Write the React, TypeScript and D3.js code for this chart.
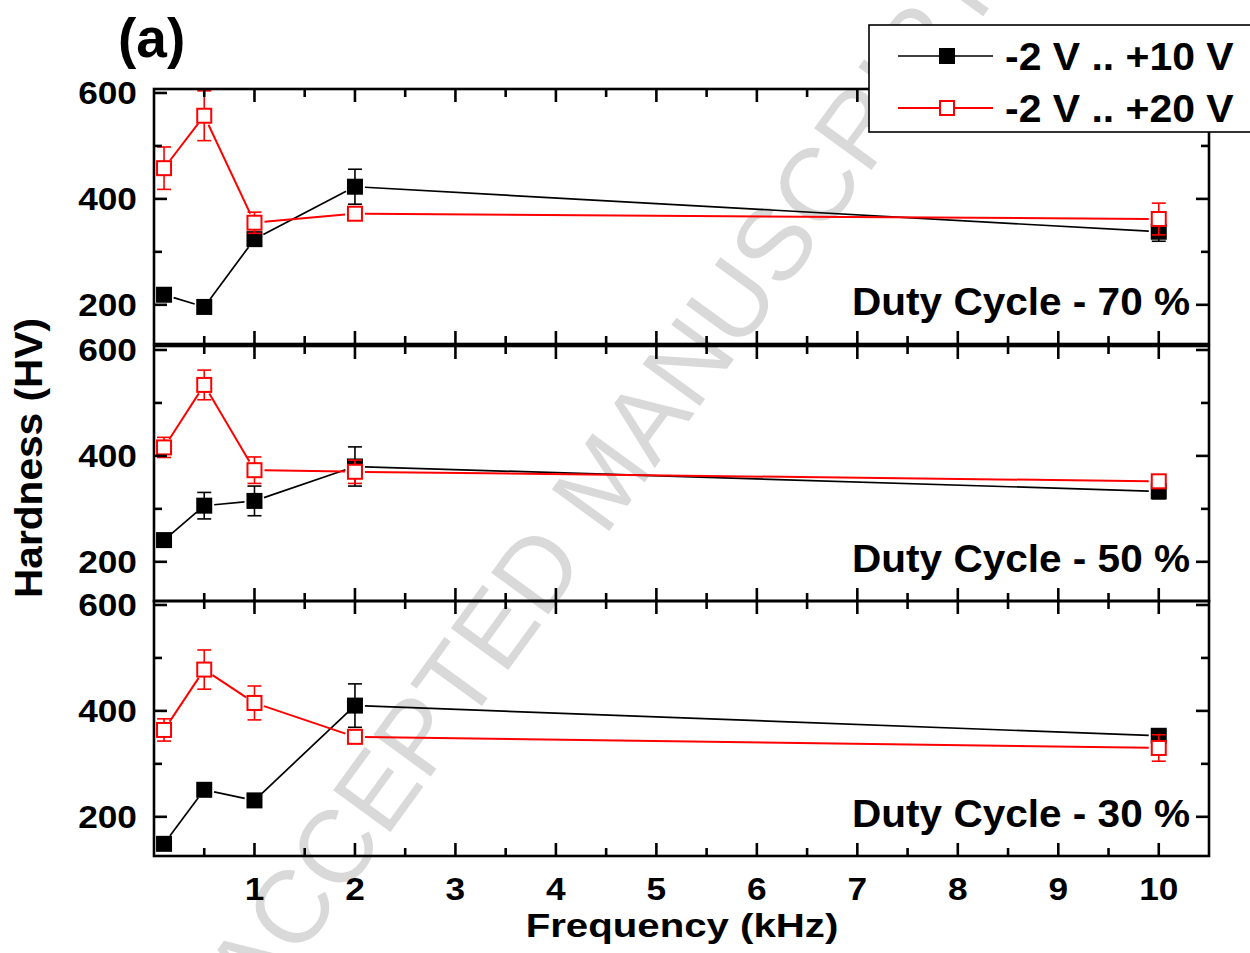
import React from 'react';
import * as d3 from 'd3';

// ---------- data ----------
const freqs = [0.1, 0.5, 1, 2, 10];
const seriesNames = ['-2 V .. +10 V', '-2 V .. +20 V'];
const panelLabels = ['Duty Cycle - 70 %', 'Duty Cycle - 50 %', 'Duty Cycle - 30 %'];

const black70 = [219, 196, 324, 423, 338];
const black70Err = [4, 4, 6, 33, 18];
const red70 = [458, 557, 355, 372, 362];
const red70Err = [40, 47, 20, 8, 30];

const black50 = [241, 306, 315, 380, 333];
const black50Err = [4, 25, 28, 37, 14];
const red50 = [416, 534, 373, 370, 352];
const red50Err = [19, 28, 25, 22, 5];

const black30 = [149, 251, 231, 410, 353];
const black30Err = [4, 4, 4, 41, 12];
const red30 = [364, 478, 415, 351, 330];
const red30Err = [21, 37, 32, 5, 25];

const xTickValues = [1, 2, 3, 4, 5, 6, 7, 8, 9, 10];
const xMinorValues = [0.5, 1.5, 2.5, 3.5, 4.5, 5.5, 6.5, 7.5, 8.5, 9.5];
const yTickValues = [200, 400, 600];
const yMinorValues = [300, 500];

const panels = [
  { label: panelLabels[0], black: black70, blackErr: black70Err, red: red70, redErr: red70Err },
  { label: panelLabels[1], black: black50, blackErr: black50Err, red: red50, redErr: red50Err },
  { label: panelLabels[2], black: black30, blackErr: black30Err, red: red30, redErr: red30Err },
];

// ---------- layout ----------
const W = 1250;
const H = 953;
const plotLeft = 154;
const plotRight = 1209;
const panelTops = [89, 346, 601];
const panelH = 255;
const FONT = "'Liberation Sans', Arial, Helvetica, sans-serif";

const x = d3.scaleLinear().domain([0, 10.5]).range([plotLeft, plotRight]);

function segPath(x1: number, y1: number, x2: number, y2: number, g: number) {
  const dx = x2 - x1, dy = y2 - y1;
  const L = Math.hypot(dx, dy);
  if (L < 2 * g + 1) return null;
  const ux = dx / L, uy = dy / L;
  return d3.line()([
    [x1 + ux * g, y1 + uy * g],
    [x2 - ux * g, y2 - uy * g],
  ]);
}

const Txt = ({ x: tx, y: ty, sx = 1, anchor = 'start', size, rotate = 0, children, fill = '#000', weight = 'bold' }: any) => (
  <text
    transform={`translate(${tx},${ty}) rotate(${rotate}) scale(${sx},1)`}
    textAnchor={anchor}
    fontSize={size}
    fontWeight={weight}
    fontFamily={FONT}
    fill={fill}
  >
    {children}
  </text>
);

function Series({ vals, errs, y, color, open }: any) {
  const pts = freqs.map((f, i) => [x(f), y(vals[i])]);
  const ms = 16;
  const capW = 14;
  return (
    <g>
      {pts.slice(1).map((p, i) => {
        const d = segPath(pts[i][0], pts[i][1], p[0], p[1], 10);
        return d ? <path key={'l' + i} d={d} stroke={color} strokeWidth={open ? 2 : 1.7} fill="none" /> : null;
      })}
      {freqs.map((f, i) => {
        const cx = x(f);
        const yt = y(vals[i] + errs[i]);
        const yb = y(vals[i] - errs[i]);
        return (
          <g key={'e' + i} stroke={color} strokeWidth={1.6}>
            <line x1={cx} x2={cx} y1={yt} y2={yb} />
            <line x1={cx - capW / 2} x2={cx + capW / 2} y1={yt} y2={yt} />
            <line x1={cx - capW / 2} x2={cx + capW / 2} y1={yb} y2={yb} />
          </g>
        );
      })}
      {pts.map((p, i) =>
        open ? (
          <rect key={'m' + i} x={p[0] - (ms - 2) / 2} y={p[1] - (ms - 2) / 2} width={ms - 2} height={ms - 2} fill="#fff" stroke={color} strokeWidth={2} />
        ) : (
          <rect key={'m' + i} x={p[0] - ms / 2} y={p[1] - ms / 2} width={ms} height={ms} fill={color} />
        )
      )}
    </g>
  );
}

function Panel({ idx }: { idx: number }) {
  const top = panelTops[idx];
  const bottom = top + panelH;
  const y = d3.scaleLinear().domain([126, 607.5]).range([bottom, top]);
  const p = panels[idx];
  const major = 13, minor = 8;
  const sw = 2.6;
  return (
    <g>
      <Series vals={p.black} errs={p.blackErr} y={y} color="#000" open={false} />
      <Series vals={p.red} errs={p.redErr} y={y} color="#ff0000" open={true} />
      <g stroke="#000" strokeWidth={sw}>
        {xTickValues.map((v) => (
          <g key={'xt' + v}>
            <line x1={x(v)} x2={x(v)} y1={top} y2={top + major} />
            <line x1={x(v)} x2={x(v)} y1={bottom} y2={bottom - major} />
          </g>
        ))}
        {xMinorValues.map((v) => (
          <g key={'xm' + v}>
            <line x1={x(v)} x2={x(v)} y1={top} y2={top + minor} />
            <line x1={x(v)} x2={x(v)} y1={bottom} y2={bottom - minor} />
          </g>
        ))}
        {yTickValues.map((v) => (
          <g key={'yt' + v}>
            <line x1={plotLeft} x2={plotLeft + major} y1={y(v)} y2={y(v)} />
            <line x1={plotRight} x2={plotRight - major} y1={y(v)} y2={y(v)} />
          </g>
        ))}
        {yMinorValues.map((v) => (
          <g key={'ym' + v}>
            <line x1={plotLeft} x2={plotLeft + minor} y1={y(v)} y2={y(v)} />
            <line x1={plotRight} x2={plotRight - minor} y1={y(v)} y2={y(v)} />
          </g>
        ))}
        <rect x={plotLeft} y={top} width={plotRight - plotLeft} height={panelH} fill="none" />
      </g>
      {yTickValues.map((v) => (
        <Txt key={'yl' + v} x={137} y={y(v) + 11} sx={1.12} anchor="end" size={31.5}>
          {String(v)}
        </Txt>
      ))}
      <Txt x={1190} y={y(600) + 222} sx={1.04} anchor="end" size={39}>
        {p.label}
      </Txt>
    </g>
  );
}

export default function App() {
  const bottom = panelTops[2] + panelH;
  return (
    <svg width={W} height={H} style={{ position: 'absolute', left: 0, top: 0, background: '#fff' }}>
      <rect x={0} y={0} width={W} height={H} fill="#fff" />
      <text
        transform="translate(601,479) rotate(-54)"
        textAnchor="middle"
        dy="0.36em"
        fontSize={103}
        fontFamily={FONT}
        fill="#d9d9d9"
      >
        ACCEPTED MANUSCRIPT
      </text>
      {panels.map((_, i) => (
        <Panel key={i} idx={i} />
      ))}
      {xTickValues.map((v) => (
        <Txt key={'xl' + v} x={x(v)} y={900} sx={1.12} anchor="middle" size={31.5}>
          {String(v)}
        </Txt>
      ))}
      <Txt x={682} y={bottom + 81} sx={1.2} anchor="middle" size={33.5}>
        Frequency (kHz)
      </Txt>
      <Txt x={42} y={458} rotate={-90} sx={1.07} anchor="middle" size={38}>
        Hardness (HV)
      </Txt>
      <Txt x={118} y={57} size={55}>
        (a)
      </Txt>
      {/* legend */}
      <g>
        <rect x={869} y={25} width={400} height={107} fill="#fff" stroke="#000" strokeWidth={1.6} />
        <line x1={898} x2={993} y1={56} y2={56} stroke="#000" strokeWidth={1.7} />
        <rect x={947 - 8} y={56 - 8} width={16} height={16} fill="#000" />
        <line x1={898} x2={993} y1={108} y2={108} stroke="#ff0000" strokeWidth={2} />
        <rect x={947 - 7} y={108 - 7} width={14} height={14} fill="#fff" stroke="#ff0000" strokeWidth={2} />
        <Txt x={1005} y={70} sx={1.05} size={39}>
          {seriesNames[0]}
        </Txt>
        <Txt x={1005} y={122} sx={1.05} size={39}>
          {seriesNames[1]}
        </Txt>
      </g>
    </svg>
  );
}
